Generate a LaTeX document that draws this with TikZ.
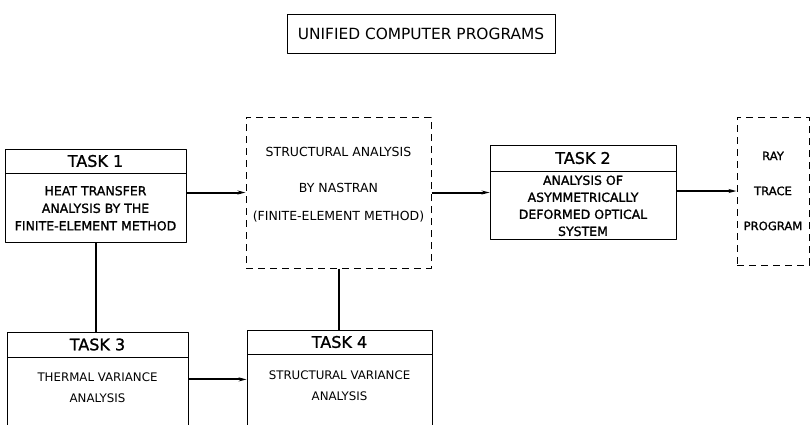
\documentclass[tikz,border=0pt]{standalone}
\usepackage{fontspec}
\setmainfont{DejaVu Sans}
\newfontfamily\heavy[FakeBold=1.2]{DejaVu Sans}
\usetikzlibrary{arrows.meta}
\tikzset{
 box/.style={draw, line width=0.8pt, inner sep=0pt, align=center},
 head/.style={box, font=\heavy\fontsize{16}{18}\selectfont},
 body/.style={box, font=\heavy\fontsize{12.5}{17.5}\selectfont},
 dbox/.style={draw, line width=1pt, dash pattern=on 7pt off 5pt, inner sep=0pt, align=center, font=\heavy\fontsize{11.6}{14}\selectfont},
 txt/.style={align=center, inner sep=0pt, font=\fontsize{11.8}{21}\selectfont},
 conn/.style={line width=2pt}
}
\begin{document}
\begin{tikzpicture}[x=1pt, y=-1pt, line join=round, >={Stealth[length=8pt,width=4pt]}]
 \useasboundingbox (0,0) rectangle (811,424);
 \clip (0,0) rectangle (811,424);
 \node[box, minimum width=268pt, minimum height=39pt, font=\fontsize{15.4}{17}\selectfont] (title) at (421,33.5) {UNIFIED COMPUTER PROGRAMS};
 % task 1 and task 2
 \node[head, minimum width=181pt, minimum height=24pt] (t1h) at (95.5,161) {TASK 1};
 \node[body, minimum width=181pt, minimum height=69pt, anchor=north] (t1) at (t1h.south) {HEAT TRANSFER\\ANALYSIS BY THE\\FINITE-ELEMENT METHOD};
 \node[head, minimum width=186pt, minimum height=26pt] (t2h) at (583,158) {TASK 2};
 \node[body, minimum width=186pt, minimum height=68pt, anchor=north, font=\heavy\fontsize{12.5}{17}\selectfont] (t2) at (t2h.south) {ANALYSIS OF\\ASYMMETRICALLY\\DEFORMED OPTICAL\\SYSTEM};
 % dashed boxes
 \node[dbox, minimum width=185pt, minimum height=151pt] (nas) at (338.5,192.5) {};
 \node[dbox, draw=none, font=\fontsize{12.5}{14}\selectfont] (nastxt) at (338.5,185) {STRUCTURAL ANALYSIS\\[22pt]BY NASTRAN\\[14pt](FINITE-ELEMENT METHOD)};
 \node[dbox, minimum width=72pt, minimum height=148pt] (ray) at (773,191) {RAY\\[21pt]TRACE\\[21pt]PROGRAM};
 % task 3 and task 4
 \node[head, minimum width=181pt, minimum height=25pt] (t3h) at (97.5,344.5) {TASK 3};
 \node[box, minimum width=181pt, minimum height=90pt, anchor=north] (t3) at (t3h.south) {};
 \node[txt] (t3txt) at ([yshift=-30.5pt]t3.north) {THERMAL VARIANCE\\ANALYSIS};
 \node[head, minimum width=185pt, minimum height=24pt] (t4h) at (339.5,342) {TASK 4};
 \node[box, minimum width=185pt, minimum height=90pt, anchor=north] (t4) at (t4h.south) {};
 \node[txt] (t4txt) at ([yshift=-31.5pt]t4.north) {STRUCTURAL VARIANCE\\ANALYSIS};
 % connectors
 \draw[conn,->] (t1.east |- nas.west) -- (nas.west);
 \draw[conn,->] (nas.east) -- (nas.east -| t2.west);
 \draw[conn,->] (t2.east |- ray.west) -- (ray.west);
 \draw[conn] (t1.south) -- (t1.south |- t3h.north);
 \draw[conn] (nas.south) -- (nas.south |- t4h.north);
 \draw[conn,->] ([yshift=-22pt]t3.north east) -- ([yshift=-22pt]t3.north east -| t4.west);
\end{tikzpicture}
\end{document}
